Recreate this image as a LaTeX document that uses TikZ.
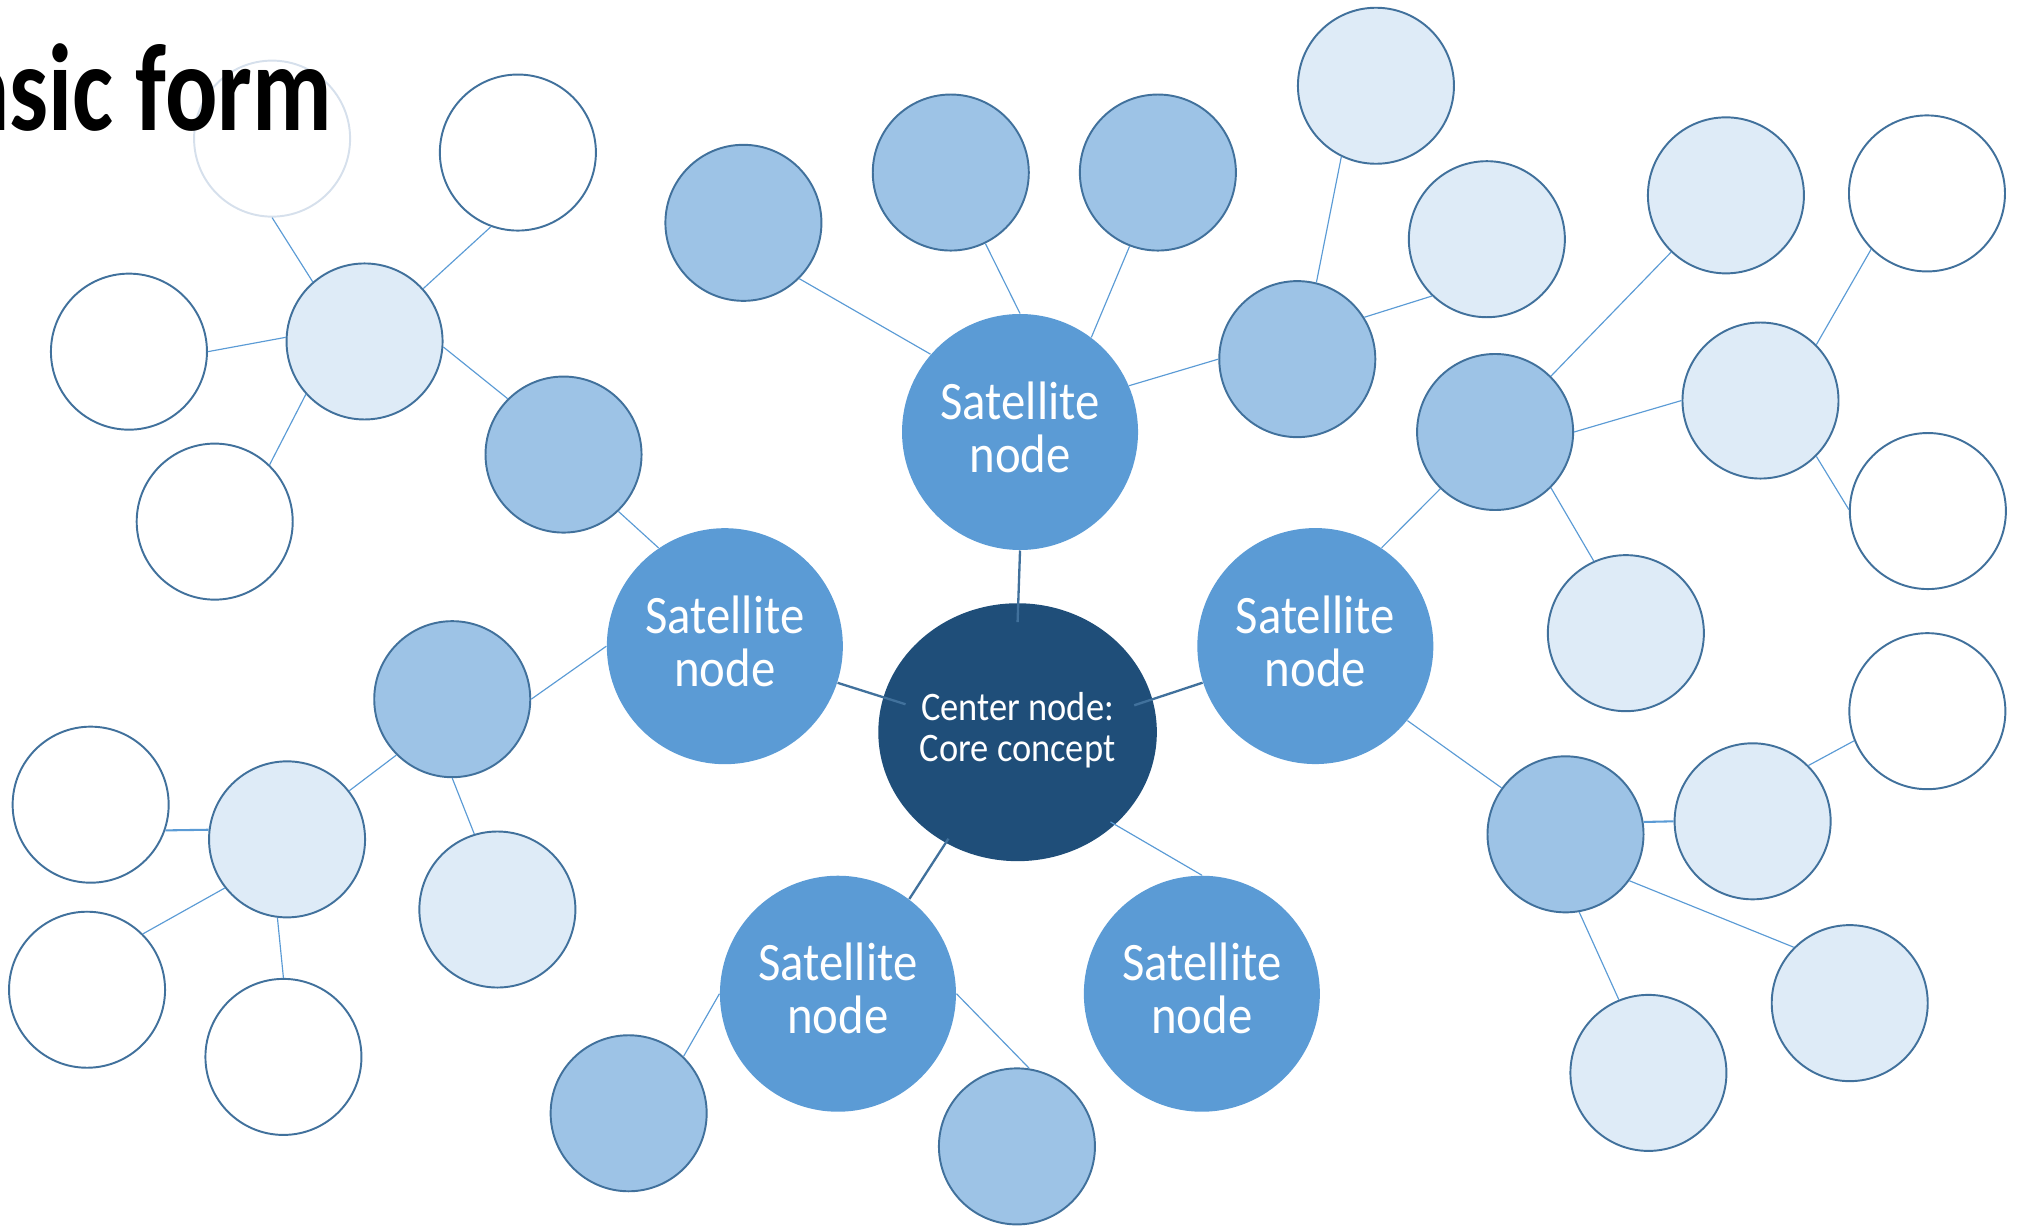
\documentclass[tikz,border=0pt]{standalone}
\usepackage{fontspec}
\usetikzlibrary{shapes.geometric,calc}
\newfontfamily\satfont{Carlito}[FakeStretch=0.9]
\newfontfamily\ttlfont{Carlito}[FakeStretch=0.79]
\definecolor{cdark}{RGB}{31,78,121}
\definecolor{csat}{RGB}{91,155,213}
\definecolor{clight}{RGB}{157,195,230}
\definecolor{cpale}{RGB}{222,235,247}
\definecolor{cedge}{RGB}{65,113,156}
\definecolor{cfade}{RGB}{214,224,236}
\tikzset{
  small/.style={circle,inner sep=0pt,minimum size=60.5pt,draw=cedge,line width=0.75pt},
  lightc/.style={small,fill=clight},
  palec/.style={small,fill=cpale},
  whitec/.style={small,fill=white},
  fadec/.style={small,draw=cfade,fill=white},
  satc/.style={circle,inner sep=0pt,minimum size=91.5pt,fill=csat,text=white,
    font=\satfont\fontsize{21}{20.5}\selectfont,align=center,text depth=4pt},
  centerc/.style={ellipse,inner sep=0pt,minimum width=108pt,minimum height=100pt,fill=cdark},
  link/.style={draw=csat,line width=0.45pt},
  clink/.style={draw=cedge,line width=0.9pt},
}
\begin{document}
\begin{tikzpicture}[x=0.5pt,y=-0.5pt]
\useasboundingbox (0,0) rectangle (1568,952);
\clip (0,0) rectangle (1568,952);
% small circles
\node[fadec]  (f0)  at (211,107.5) {};
\node[whitec] (w1)  at (401.6,118.3) {};
\node[whitec] (w2)  at (100,272.7) {};
\node[whitec] (w3)  at (166.5,404.5) {};
\node[palec]  (p1)  at (282.7,264.8) {};
\node[lightc] (l1)  at (437,352.5) {};
\node[lightc] (l2)  at (350.7,542.2) {};
\node[palec]  (p2)  at (222.6,650.9) {};
\node[palec]  (p3)  at (385.7,705.3) {};
\node[whitec] (w4)  at (70.3,624) {};
\node[whitec] (w5)  at (67.5,767.5) {};
\node[whitec] (w6)  at (219.8,819.6) {};
\node[lightc] (l3)  at (576.5,172.8) {};
\node[lightc] (l4)  at (737.3,133.8) {};
\node[lightc] (l5)  at (897.9,133.8) {};
\node[lightc] (l6)  at (1006,278.5) {};
\node[palec]  (p4)  at (1067,66.5) {};
\node[palec]  (p5)  at (1153,185.5) {};
\node[lightc] (l7)  at (1159.4,335) {};
\node[palec]  (p6)  at (1338.4,151.5) {};
\node[palec]  (p7)  at (1365.2,310.6) {};
\node[palec]  (p8)  at (1260.8,491) {};
\node[whitec] (w7)  at (1494.3,150) {};
\node[whitec] (w8)  at (1495,396.3) {};
\node[lightc] (l8)  at (1214,647) {};
\node[palec]  (p9)  at (1359.1,636.9) {};
\node[whitec] (w9)  at (1494.6,551.5) {};
\node[palec]  (p10) at (1434.4,777.9) {};
\node[palec]  (p11) at (1278.3,832) {};
\node[lightc] (l9)  at (487.5,863.3) {};
\node[lightc] (l10) at (788.6,889) {};
% satellites and center
\node[satc] (sT)  at (791,335) {Satellite\\node};
\node[satc] (sL)  at (562.1,501.1) {Satellite\\node};
\node[satc] (sR)  at (1020,501) {Satellite\\node};
\node[satc] (sBL) at (649.8,770.6) {Satellite\\node};
\node[satc] (sBR) at (932,770.6) {Satellite\\node};
\node[centerc] (c) at (789.1,567.8) {};
% thin connectors
\draw[link] (p1.131) -- (f0.270);
\draw[link] (p1.42) -- (w1.250);
\draw[link] (p1.177) -- (w2.0);
\draw[link] (p1.222) -- (w3.46);
\draw[link] (p1.-4) -- (l1.135);
\draw[link] (l1.-46) -- (sL.124);
\draw[link] (sL.180) -- (l2.0);
\draw[link] (l2.225) -- (p2.38);
\draw[link] (l2.270) -- (p3.107);
\draw[link,line width=0.8pt] (p2.173) -- (w4.-19);
\draw[link] (p2.218) -- (w5.45);
\draw[link] (p2.263) -- (w6.90);
\draw[link] (sT.139.5) -- (l3.-45.6);
\draw[link] (sT.90) -- (l4.-64);
\draw[link] (sT.53.5) -- (l5.249);
\draw[link] (sT.23.7) -- (l6.180);
\draw[link] (l6.76) -- (p4.244);
\draw[link] (l6.32) -- (p5.226);
\draw[link] (sR.56) -- (l7.226);
\draw[link] (l7.45) -- (p6.226);
\draw[link] (l7.0) -- (p7.180);
\draw[link] (l7.-45) -- (p8.114);
\draw[link] (p7.45.6) -- (w7.225.7);
\draw[link] (p7.-45.5) -- (w8.179);
\draw[link] (sR.-39) -- (l8.144);
\draw[link,line width=0.8pt] (l8.9.5) -- (p9.180);
\draw[link] (p9.45) -- (w9.202);
\draw[link] (l8.-36) -- (p10.135);
\draw[link] (l8.-80) -- (p11.112);
\draw[link] (sBL.180) -- (l9.46);
\draw[link] (sBL.0) -- (l10.81);
% center connectors
\draw[clink] (sT.270) -- ($(c.center)!0.85!(c.90)$);
\draw[clink] (sL.-18) -- ($(c.center)!0.83!(c.166.5)$);
\draw[clink] (sR.198.5) -- ($(c.center)!0.86!(c.13)$);
\draw[clink] (sBL.53.5) -- ($(c.center)!0.96!(c.237.5)$);
\draw[link] (sBR.90) -- ($(c.center)!0.96!(c.-44)$);
% center text
\node[text=white,font=\satfont\fontsize{15.7}{15.65}\selectfont,align=center,inner sep=0pt]
  (ctext) at ($(c.center)+(0,-1.5)$) {Center node:\\Core concept};
% title
\node[anchor=base east,inner sep=0pt,font=\ttlfont\bfseries\fontsize{48}{48}\selectfont] (title) at (258,101) {Basic form};
\end{tikzpicture}
\end{document}
